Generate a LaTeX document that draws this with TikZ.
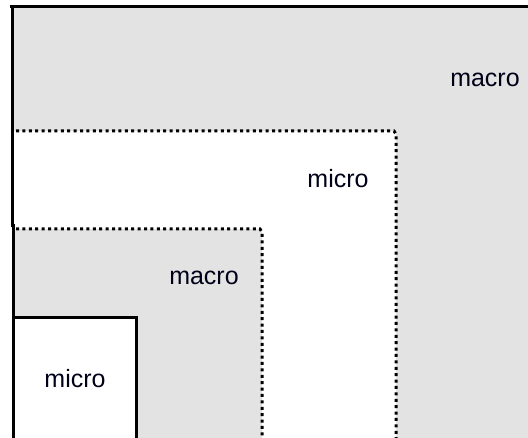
\documentclass[tikz,border=0pt]{standalone}
\usepackage{fontspec}
\setmainfont{Liberation Sans}
\definecolor{macroGray}{RGB}{227,227,227}

\begin{document}
\begin{tikzpicture}[x = 1pt, y = -1pt,
  solidEdge/.style = {line width=3pt},
  dotEdge/.style = {line width=3pt, dash pattern=on 3pt off 3.4pt},
  levelLabel/.style = {anchor=base, font=\fontsize{25}{30}\selectfont, text=black!90!blue}]
\useasboundingbox (0,0) rectangle (528,438);

\fill[macroGray] (12,7) rectangle (528,438);
\fill[white] (13,131) rectangle (396,438);
\fill[macroGray] (13,229) rectangle (262,438);
\fill[white] (13,318) rectangle (136,438);

\draw[solidEdge] (10,7) -- (528,7);
\draw[solidEdge] (12,7) -- (12,226) -- (15,226);
\draw[solidEdge] (13,226) -- (13,438);
\draw[dotEdge] (16,131) -- (394,131) -- (396,134) -- (396,438);
\draw[dotEdge] (16,229) -- (260,229) -- (262,232) -- (262,438);
\draw[solidEdge] (13,318) -- (136,318) -- (136,438);

\node[levelLabel] (macroOuter) at (485,87) {macro};
\node[levelLabel] (microOuter) at (338,188) {micro};
\node[levelLabel] (macroInner) at (204,285) {macro};
\node[levelLabel] (microInner) at (75,388) {micro};
\end{tikzpicture}
\end{document}
